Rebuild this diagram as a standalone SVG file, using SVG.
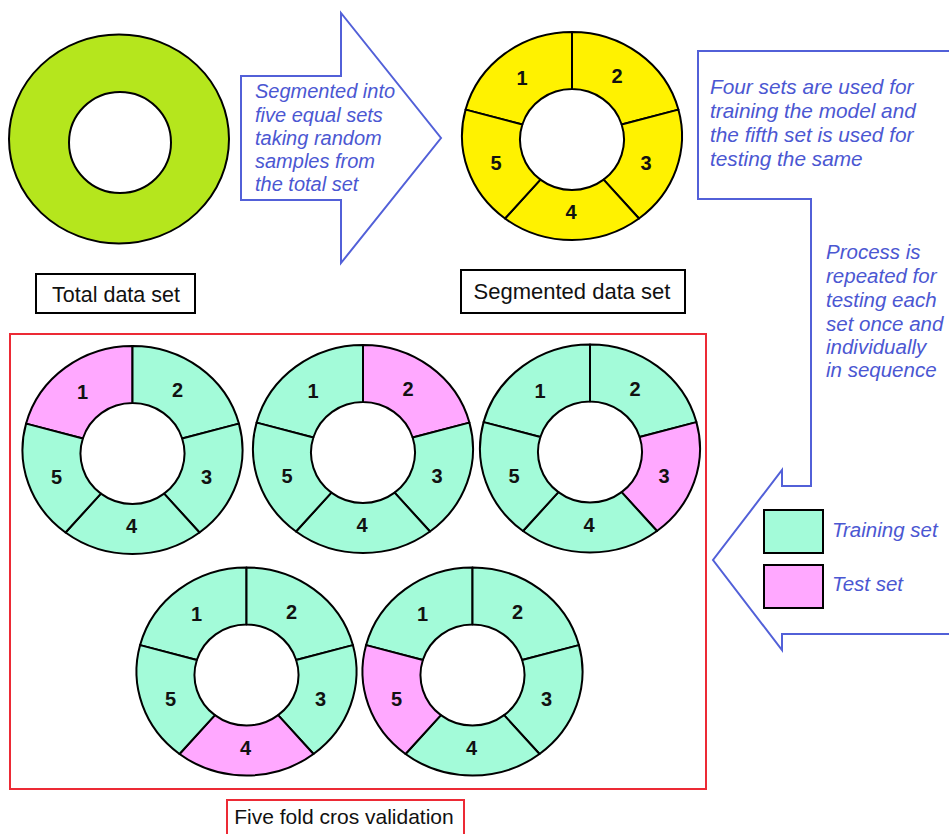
<svg xmlns="http://www.w3.org/2000/svg" xmlns:xlink="http://www.w3.org/1999/xlink" width="949" height="834" viewBox="0 0 949 834">
<style>
.seg{stroke:#000;stroke-width:2;stroke-linejoin:round}
.train{fill:#a3fbd9}
.test{fill:#ffa8ff}
.yel{fill:#fff200}
.num{font-family:"Liberation Sans",Arial,sans-serif;font-weight:bold;font-size:20px;fill:#111;text-anchor:middle}
.note{font-family:"Liberation Sans",Arial,sans-serif;font-style:italic;font-size:20px;fill:#4b57d2}
.lbl{font-family:"Liberation Sans",Arial,sans-serif;font-size:21px;fill:#111;text-anchor:middle}
.arrow{fill:#fff;stroke:#5260d8;stroke-width:2;stroke-linejoin:miter}
.box{fill:#fff;stroke:#000;stroke-width:2}
.rbox{fill:none;stroke:#ec2a35;stroke-width:2}
</style>
<defs>
<path id="s1" d="M-106.4,-26.4 A110,104 0 0 1 0,-104 L0,-47 A52,50.5 0 0 0 -49.66,-11.5 Z"/>
<path id="s2" d="M0,-104 A110,104 0 0 1 106.4,-26.4 L49.66,-11.5 A52,50.5 0 0 0 0,-47 Z"/>
<path id="s3" d="M106.4,-26.4 A110,104 0 0 1 67,82.5 L31.6,43.65 A52,50.5 0 0 0 49.66,-11.5 Z"/>
<path id="s4" d="M67,82.5 A110,104 0 0 1 -67,82.5 L-31.6,43.65 A52,50.5 0 0 0 31.6,43.65 Z"/>
<path id="s5" d="M-67,82.5 A110,104 0 0 1 -106.4,-26.4 L-49.66,-11.5 A52,50.5 0 0 0 -31.6,43.65 Z"/>
</defs>
<rect width="949" height="834" fill="#fff"/>

<g id="connectors">
<path class="arrow" d="M241,76 L341,76 L341,13 L441,138 L341,263 L341,200 L241,200 Z"/>
<path class="arrow" d="M960,51 L698,51 L698,199 L811,199 L811,486 L782,486 L782,470 L713,560 L782,650 L782,634 L960,634"/>
</g>

<g id="total-data-set">
<ellipse cx="119" cy="139" rx="110" ry="104.5" fill="#b5e61d" stroke="#000" stroke-width="2"/>
<ellipse cx="120" cy="142.5" rx="51" ry="50.5" fill="#fff" stroke="#000" stroke-width="2"/>
<rect class="box" x="36" y="274" width="159" height="39"/>
<text class="lbl" x="116" y="302" style="font-size:21.5px">Total data set</text>
</g>

<g id="segment-note">
<text class="note" x="255"><tspan x="255" y="98">Segmented into</tspan><tspan x="255" y="121.5">five equal sets</tspan><tspan x="255" y="145">taking random</tspan><tspan x="255" y="168">samples from</tspan><tspan x="255" y="191">the total set</tspan></text>
</g>

<g id="segmented-data-set" transform="translate(572,136)">
<use xlink:href="#s1" class="seg yel"/>
<use xlink:href="#s2" class="seg yel"/>
<use xlink:href="#s3" class="seg yel"/>
<use xlink:href="#s4" class="seg yel"/>
<use xlink:href="#s5" class="seg yel"/>
<text class="num" x="-50" y="-51">1</text>
<text class="num" x="45" y="-53">2</text>
<text class="num" x="74" y="34">3</text>
<text class="num" x="-1" y="83">4</text>
<text class="num" x="-76" y="34">5</text>
</g>
<g id="segmented-label">
<rect class="box" x="461" y="270" width="224" height="43"/>
<text class="lbl" x="572" y="299" style="font-size:22px">Segmented data set</text>
</g>

<g id="train-test-note">
<text class="note" style="font-size:20.8px"><tspan x="710" y="94">Four sets are used for</tspan><tspan x="710" y="118">training the model and</tspan><tspan x="710" y="142">the fifth set is used for</tspan><tspan x="710" y="166">testing the same</tspan></text>
</g>

<g id="repeat-note">
<text class="note" style="font-size:20.5px"><tspan x="826" y="259">Process is</tspan><tspan x="826" y="283">repeated for</tspan><tspan x="826" y="306.5">testing each</tspan><tspan x="826" y="330.5">set once and</tspan><tspan x="826" y="354">individually</tspan><tspan x="826" y="377">in sequence</tspan></text>
</g>

<g id="legend">
<rect x="764" y="510" width="59" height="43" class="train" stroke="#000" stroke-width="2"/>
<text class="note" x="832" y="537" style="font-size:20.5px">Training set</text>
<rect x="764" y="565" width="59" height="43" class="test" stroke="#000" stroke-width="2"/>
<text class="note" x="832" y="591" style="font-size:20.5px">Test set</text>
</g>

<g id="five-fold-frame">
<rect class="rbox" x="10" y="334" width="696" height="455"/>
</g>

<g id="fold-1" transform="translate(132.5,450)">
<use xlink:href="#s1" class="seg test"/>
<use xlink:href="#s2" class="seg train"/>
<use xlink:href="#s3" class="seg train"/>
<use xlink:href="#s4" class="seg train"/>
<use xlink:href="#s5" class="seg train"/>
<text class="num" x="-50" y="-51">1</text>
<text class="num" x="45" y="-53">2</text>
<text class="num" x="74" y="34">3</text>
<text class="num" x="-1" y="83">4</text>
<text class="num" x="-76" y="34">5</text>
</g>

<g id="fold-2" transform="translate(363,449)">
<use xlink:href="#s1" class="seg train"/>
<use xlink:href="#s2" class="seg test"/>
<use xlink:href="#s3" class="seg train"/>
<use xlink:href="#s4" class="seg train"/>
<use xlink:href="#s5" class="seg train"/>
<text class="num" x="-50" y="-51">1</text>
<text class="num" x="45" y="-53">2</text>
<text class="num" x="74" y="34">3</text>
<text class="num" x="-1" y="83">4</text>
<text class="num" x="-76" y="34">5</text>
</g>

<g id="fold-3" transform="translate(590,448.5)">
<use xlink:href="#s1" class="seg train"/>
<use xlink:href="#s2" class="seg train"/>
<use xlink:href="#s3" class="seg test"/>
<use xlink:href="#s4" class="seg train"/>
<use xlink:href="#s5" class="seg train"/>
<text class="num" x="-50" y="-51">1</text>
<text class="num" x="45" y="-53">2</text>
<text class="num" x="74" y="34">3</text>
<text class="num" x="-1" y="83">4</text>
<text class="num" x="-76" y="34">5</text>
</g>

<g id="fold-4" transform="translate(246.5,671.5)">
<use xlink:href="#s1" class="seg train"/>
<use xlink:href="#s2" class="seg train"/>
<use xlink:href="#s3" class="seg train"/>
<use xlink:href="#s4" class="seg test"/>
<use xlink:href="#s5" class="seg train"/>
<text class="num" x="-50" y="-51">1</text>
<text class="num" x="45" y="-53">2</text>
<text class="num" x="74" y="34">3</text>
<text class="num" x="-1" y="83">4</text>
<text class="num" x="-76" y="34">5</text>
</g>

<g id="fold-5" transform="translate(472.5,671.5)">
<use xlink:href="#s1" class="seg train"/>
<use xlink:href="#s2" class="seg train"/>
<use xlink:href="#s3" class="seg train"/>
<use xlink:href="#s4" class="seg train"/>
<use xlink:href="#s5" class="seg test"/>
<text class="num" x="-50" y="-51">1</text>
<text class="num" x="45" y="-53">2</text>
<text class="num" x="74" y="34">3</text>
<text class="num" x="-1" y="83">4</text>
<text class="num" x="-76" y="34">5</text>
</g>

<g id="five-fold-label">
<rect x="227" y="800" width="237" height="50" fill="#fff" stroke="#ec2a35" stroke-width="2"/>
<text class="lbl" x="344" y="824">Five fold cros validation</text>
</g>
</svg>
